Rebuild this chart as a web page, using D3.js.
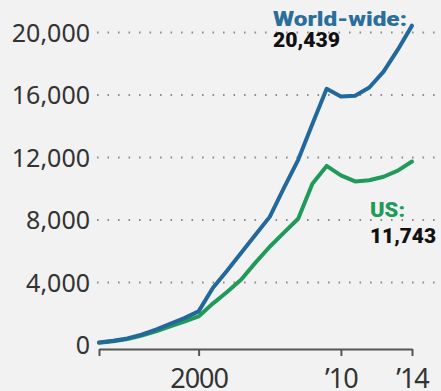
<!DOCTYPE html>
<html>
<head>
<meta charset="utf-8">
<script src="https://cdn.jsdelivr.net/npm/d3@7"></script>
<style>
  html, body { margin: 0; padding: 0; background: #f2f2f2; }
  svg { display: block; }
</style>
</head>
<body>
<svg id="chart" width="441" height="391"></svg>
<script>
// ---- data ----
const years = [1992, 1993, 1994, 1995, 1996, 1997, 1998, 1999, 2000, 2001, 2002, 2003,
               2004, 2005, 2006, 2007, 2008, 2009, 2010, 2011, 2012, 2013, 2014];
const worldWide = [160, 270, 420, 660, 980, 1350, 1720, 2150, 3650, 4750, 5900, 7050,
                   8200, 10050, 11850, 14150, 16400, 15900, 15950, 16480, 17500, 18900, 20439];
const us = [140, 240, 380, 600, 880, 1200, 1500, 1830, 2650, 3390, 4190, 5270,
            6290, 7190, 8080, 10320, 11460, 10860, 10470, 10540, 10770, 11160, 11743];
const yTicks = [0, 4000, 8000, 12000, 16000, 20000];
const xTickDates = [new Date(1992, 11, 31), new Date(2000, 0, 1), new Date(2010, 0, 1), new Date(2014, 11, 31)];
const xTickLabels = ["", "2000", "\u201910", "\u201914"];
const seriesNames = ["World-wide:", "US:"];

// ---- chart ----
const svg = d3.select("#chart");
const W = 441, H = 391;
svg.append("rect").attr("width", W).attr("height", H).attr("fill", "#f2f2f2");

const x = d3.scaleTime()
  .domain([new Date(years[0], 11, 31), new Date(years[years.length - 1], 11, 31)])
  .range([99, 412]);
const y = d3.scaleLinear().domain([0, 20000]).range([345, 32.5]);

const tickFont = "'Noto Sans', 'Open Sans', sans-serif";

// gridlines (dotted)
svg.append("g").selectAll("line")
  .data(yTicks.filter(d => d !== 0))
  .join("line")
  .attr("x1", 97).attr("x2", W)
  .attr("y1", d => y(d)).attr("y2", d => y(d))
  .attr("stroke", "#8c8c8c")
  .attr("stroke-width", 1.8)
  .attr("stroke-dasharray", "1.6 8.9");

// y axis labels
const yAxis = svg.append("g")
  .attr("transform", "translate(90,0)")
  .call(d3.axisLeft(y).tickValues(yTicks).tickFormat(d3.format(",")).tickSize(0).tickPadding(0));
yAxis.select(".domain").remove();
yAxis.selectAll("text")
  .attr("font-family", tickFont)
  .attr("font-size", 25)
  .attr("fill", "#333")
  .attr("dy", "0.35em");

// x axis
const xAxis = svg.append("g")
  .attr("transform", "translate(0,349)")
  .call(d3.axisBottom(x).tickValues(xTickDates).tickFormat((d, i) => xTickLabels[i]).tickSize(7).tickSizeOuter(0));
xAxis.select(".domain").attr("stroke", "#555").attr("stroke-width", 2);
xAxis.selectAll(".tick line").attr("stroke", "#555").attr("stroke-width", 2);
xAxis.selectAll("text")
  .attr("font-family", tickFont)
  .attr("font-size", 27)
  .attr("letter-spacing", -1)
  .attr("fill", "#333")
  .attr("y", 39)
  .attr("dy", 0);

// lines
const line = d3.line()
  .x((d, i) => x(new Date(years[i], 11, 31)))
  .y(d => y(d));

svg.append("path")
  .datum(us)
  .attr("fill", "none")
  .attr("stroke", "#1f9a5b")
  .attr("stroke-width", 4)
  .attr("stroke-linejoin", "round")
  .attr("stroke-linecap", "round")
  .attr("d", line);

svg.append("path")
  .datum(worldWide)
  .attr("fill", "none")
  .attr("stroke", "#22689b")
  .attr("stroke-width", 4)
  .attr("stroke-linejoin", "round")
  .attr("stroke-linecap", "round")
  .attr("d", line);

// annotations
const annFont = "Roboto, 'Liberation Sans', sans-serif";
const fmt = d3.format(",");
function label(xp, yp, txt, color, width) {
  svg.append("text")
    .attr("x", xp).attr("y", yp)
    .attr("font-family", annFont)
    .attr("font-weight", 900)
    .attr("font-size", 21)
    .attr("fill", color)
    .attr("textLength", width)
    .attr("lengthAdjust", "spacingAndGlyphs")
    .text(txt);
}
label(273, 26, seriesNames[0], "#2a6e9c", 134);
label(273, 47, fmt(worldWide[worldWide.length - 1]), "#111", 67);
label(370, 217, seriesNames[1], "#1f9a5b", 35);
label(370, 243, fmt(us[us.length - 1]), "#111", 66);
</script>
</body>
</html>
